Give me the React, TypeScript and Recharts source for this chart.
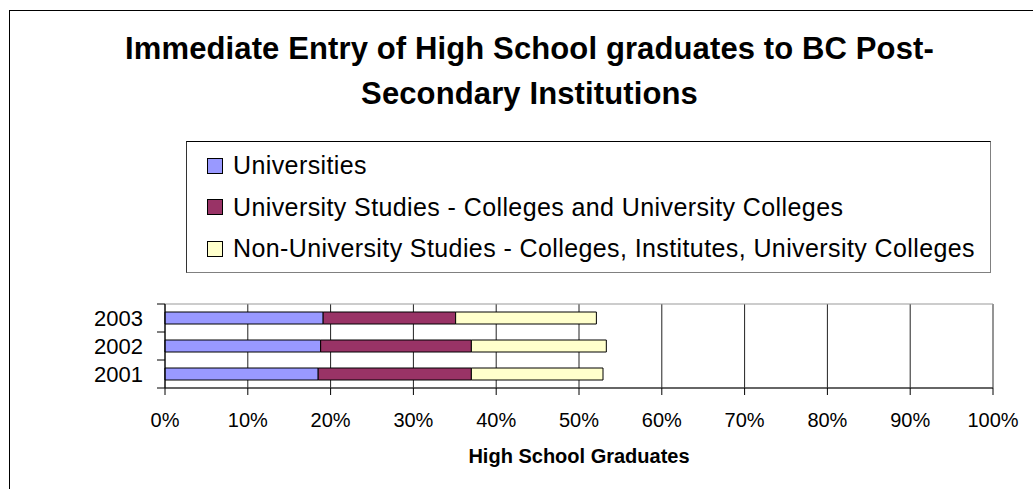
import React from "react";
import {
  BarChart,
  Bar,
  XAxis,
  YAxis,
  CartesianGrid,
  Legend,
  ReferenceArea,
} from "recharts";

const FONT = '"Liberation Sans", Arial, sans-serif';

// data (fractions of high school graduates)
const years = ["2003", "2002", "2001"];
const universities = [0.191, 0.188, 0.185];
const univStudies = [0.16, 0.182, 0.185];
const nonUnivStudies = [0.17, 0.163, 0.159];

const xTicks = [0, 0.1, 0.2, 0.3, 0.4, 0.5, 0.6, 0.7, 0.8, 0.9, 1];

const titleLines = [
  "Immediate Entry of High School graduates to BC Post-",
  "Secondary Institutions",
];
const xAxisTitle = "High School Graduates";

const series = [
  { key: "universities", name: "Universities", color: "#9999FF" },
  {
    key: "univStudies",
    name: "University Studies - Colleges and University Colleges",
    color: "#993366",
  },
  {
    key: "nonUnivStudies",
    name: "Non-University Studies - Colleges, Institutes, University Colleges",
    color: "#FFFFCC",
  },
];

const data = years.map((year, i) => ({
  year,
  universities: universities[i],
  univStudies: univStudies[i],
  nonUnivStudies: nonUnivStudies[i],
}));

const pct = (v: number) => `${Math.round(v * 100)}%`;

// category label at band centre, tick marks at band boundaries
function YearTick(props: any) {
  const { x, y, payload, index, visibleTicksCount } = props;
  const half = payload?.offset || 14;
  const axisX = x + 22;
  return (
    <g>
      <text
        x={x}
        y={y}
        dy="0.355em"
        textAnchor="end"
        fontSize={22}
        fontFamily={FONT}
        fill="#000"
      >
        {payload.value}
      </text>
      <line x1={axisX - 8} x2={axisX} y1={y - half} y2={y - half} stroke="#000" />
      {index === visibleTicksCount - 1 && (
        <line x1={axisX - 8} x2={axisX} y1={y + half} y2={y + half} stroke="#000" />
      )}
    </g>
  );
}

function LegendBox() {
  return (
    <div
      style={{
        boxSizing: "border-box",
        width: "100%",
        height: "100%",
        borderTop: "1px solid #000",
        borderLeft: "1px solid #333",
        borderRight: "1px solid #808080",
        borderBottom: "1px solid #808080",
        paddingTop: 3,
        paddingLeft: 20,
        background: "#fff",
        fontFamily: FONT,
        fontSize: 25,
        letterSpacing: 0.4,
        color: "#000",
      }}
    >
      {series.map((s) => (
        <div
          key={s.key}
          style={{ display: "flex", alignItems: "center", height: 41.5, whiteSpace: "nowrap" }}
        >
          <span
            style={{
              display: "inline-block",
              width: 14,
              height: 14,
              border: "1px solid #000",
              background: s.color,
              marginRight: 10,
              flex: "none",
            }}
          />
          <span>{s.name}</span>
        </div>
      ))}
    </div>
  );
}

export default function App() {
  return (
    <div
      style={{
        position: "absolute",
        left: 0,
        top: 0,
        width: 1033,
        height: 489,
        overflow: "hidden",
        background: "#fff",
      }}
    >
      <div
        style={{
          position: "absolute",
          left: 9,
          top: 10,
          width: 1100,
          height: 600,
          border: "1px solid #000",
        }}
      />
      <div
        style={{
          position: "absolute",
          left: 0,
          top: 27,
          width: 1059,
          textAlign: "center",
          fontFamily: FONT,
          fontWeight: "bold",
          fontSize: 31,
          letterSpacing: 0.12,
          lineHeight: "44.5px",
          color: "#000",
        }}
      >
        {titleLines.map((t) => (
          <div key={t}>{t}</div>
        ))}
      </div>
      <div style={{ position: "absolute", left: 0, top: 0 }}>
        <BarChart
          width={1033}
          height={489}
          data={data}
          layout="vertical"
          barSize={12}
          margin={{ top: 304, right: 40, bottom: 71, left: 105 }}
        >
          <CartesianGrid horizontal={false} stroke="#222" />
          <ReferenceArea x1={0} x2={1} stroke="#999" fill="none" fillOpacity={0} />
          <XAxis
            type="number"
            domain={[0, 1]}
            ticks={xTicks}
            interval={0}
            tickFormatter={pct}
            height={30}
            tickSize={7}
            tickMargin={18}
            stroke="#000"
            tick={{ fontSize: 20, fill: "#000", fontFamily: FONT }}
            label={{
              value: xAxisTitle,
              position: "bottom",
              offset: 31,
              fontSize: 20,
              fontWeight: "bold",
              fill: "#000",
              fontFamily: FONT,
            }}
          />
          <YAxis
            type="category"
            dataKey="year"
            width={60}
            tickSize={0}
            tickMargin={22}
            tickLine={false}
            stroke="#000"
            tick={<YearTick />}
          />
          <Legend
            layout="horizontal"
            verticalAlign="middle"
            align="center"
            content={() => <LegendBox />}
            wrapperStyle={{ left: 186, top: 141, width: 805, height: 132 }}
          />
          {series.map((s) => (
            <Bar
              key={s.key}
              dataKey={s.key}
              name={s.name}
              stackId="a"
              fill={s.color}
              stroke="#000"
              strokeWidth={1}
              isAnimationActive={false}
            />
          ))}
        </BarChart>
      </div>
    </div>
  );
}
